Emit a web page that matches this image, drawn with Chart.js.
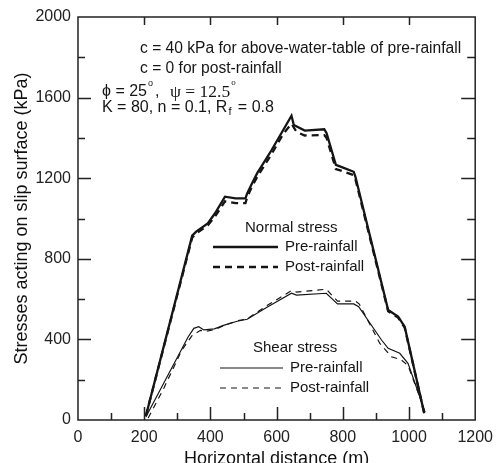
<!DOCTYPE html>
<html>
<head>
<meta charset="utf-8">
<script src="https://cdn.jsdelivr.net/npm/chart.js@4/dist/chart.umd.min.js"></script>
<style>
  html, body { margin: 0; padding: 0; overflow: hidden; background: #fff; }
</style>
</head>
<body>
<canvas id="chart" width="501" height="470"></canvas>
<script>
// values (horizontal distance in m, stress in kPa)
const normalPreX  = [205, 345, 357, 392, 414, 444, 476, 506, 511, 526, 541, 585, 620, 645, 652, 685, 744, 751, 779, 799, 833, 838, 937, 967, 987, 1046];
const normalPreY  = [20, 915, 935, 976, 1026, 1108, 1100, 1100, 1125, 1175, 1224, 1340, 1439, 1510, 1464, 1436, 1443, 1423, 1266, 1254, 1232, 1208, 546, 513, 463, 33];
const normalPostX = [205, 345, 357, 392, 414, 444, 476, 506, 511, 526, 541, 585, 620, 645, 660, 685, 744, 751, 779, 799, 833, 838, 937, 967, 987, 1046];
const normalPostY = [20, 905, 925, 966, 1010, 1085, 1076, 1076, 1105, 1160, 1205, 1320, 1420, 1470, 1430, 1412, 1414, 1400, 1245, 1235, 1215, 1195, 540, 508, 458, 33];

const shearPreX  = [205, 333, 350, 365, 380, 412, 442, 481, 511, 571, 645, 660, 750, 784, 833, 848, 917, 937, 972, 997, 1036, 1048];
const shearPreY  = [15, 413, 455, 463, 447, 452, 471, 490, 500, 560, 629, 620, 629, 576, 576, 562, 397, 356, 331, 281, 99, 40];
const shearPostX = [212, 260, 313, 345, 370, 385, 412, 442, 481, 511, 571, 645, 660, 750, 784, 838, 850, 912, 947, 977, 997, 1036, 1048];
const shearPostY = [10, 160, 345, 420, 445, 440, 448, 470, 492, 502, 568, 642, 635, 649, 590, 590, 575, 380, 314, 298, 270, 99, 40];

const xTickValues = [0, 200, 400, 600, 800, 1000, 1200];
const yTickValues = [0, 400, 800, 1200, 1600, 2000];

const groupTitles = ['Normal stress', 'Shear stress'];
const seriesNames = ['Pre-rainfall', 'Post-rainfall'];

const noteLines = [
  'c = 40 kPa for above-water-table of pre-rainfall',
  'c = 0 for post-rainfall'
];

const INK = '#151515';
const SANS = '"Liberation Sans", Arial, sans-serif';
const SERIF = '"Liberation Serif", "Times New Roman", serif';

function pts(xs, ys) {
  return xs.map((x, i) => ({ x: x, y: ys[i] }));
}

function series(label, xs, ys, width, dash) {
  return {
    label: label,
    data: pts(xs, ys),
    showLine: true,
    borderColor: INK,
    backgroundColor: INK,
    borderWidth: width,
    borderDash: dash,
    pointRadius: 0,
    tension: 0,
    fill: false
  };
}

// box round the plot, ticks pointing inward on all four sides
const frameAndTicks = {
  id: 'frameAndTicks',
  afterDatasetsDraw(chart) {
    const { ctx, chartArea: a, scales: { x, y } } = chart;
    ctx.save();
    ctx.strokeStyle = '#222';
    ctx.lineWidth = 1.5;
    ctx.strokeRect(a.left, a.top, a.right - a.left, a.bottom - a.top);
    ctx.beginPath();
    for (let v = 100; v < 1200; v += 100) {
      const px = Math.round(x.getPixelForValue(v)) + 0.5;
      const major = v % 200 === 0;
      ctx.moveTo(px, a.bottom);
      ctx.lineTo(px, a.bottom - (major ? 13 : 7));
      if (major) {
        ctx.moveTo(px, a.top);
        ctx.lineTo(px, a.top + 8);
      }
    }
    for (let v = 200; v < 2000; v += 200) {
      const py = Math.round(y.getPixelForValue(v)) + 0.5;
      const major = v % 400 === 0;
      ctx.moveTo(a.left, py);
      ctx.lineTo(a.left + (major ? 13 : 7), py);
      ctx.moveTo(a.right, py);
      ctx.lineTo(a.right - (major ? 14 : 8), py);
    }
    ctx.stroke();
    ctx.restore();
  }
};

// parameter notes and the two grouped legends
const notesAndLegend = {
  id: 'notesAndLegend',
  afterDraw(chart) {
    const ctx = chart.ctx;
    ctx.save();
    ctx.fillStyle = INK;
    ctx.textAlign = 'left';
    ctx.textBaseline = 'middle';

    ctx.font = '15.6px ' + SANS;
    ctx.fillText(noteLines[0], 140, 49);
    ctx.fillText(noteLines[1], 140, 69);

    // phi = 25 deg, psi = 12.5 deg
    let cx = 102;
    const cy = 92;
    ctx.font = '16px ' + SANS;
    ctx.fillText('\u03D5 = 25', cx, cy);
    cx += ctx.measureText('\u03D5 = 25').width;
    ctx.font = '9px ' + SANS;
    ctx.fillText('o', cx + 1, cy - 8);
    cx += 8;
    ctx.font = '16px ' + SANS;
    ctx.fillText(',', cx, cy);
    cx = 170;
    ctx.font = '17.5px ' + SERIF;
    ctx.fillText('\u03C8 = 12.5', cx, cy);
    cx += ctx.measureText('\u03C8 = 12.5').width;
    ctx.font = '9px ' + SERIF;
    ctx.fillText('o', cx + 1, cy - 9);

    // K, n, Rf
    cx = 102;
    const ky = 108;
    ctx.font = '16px ' + SANS;
    ctx.fillText('K = 80, n = 0.1, R', cx, ky);
    cx += ctx.measureText('K = 80, n = 0.1, R').width;
    ctx.font = '11px ' + SANS;
    ctx.fillText('f', cx + 1, ky + 4);
    cx += 6;
    ctx.font = '16px ' + SANS;
    ctx.fillText(' = 0.8', cx, ky);

    // legends
    const boxes = [
      { title: [245, 228], lineX: [213, 278], textX: 285, rows: [247, 267], sets: [0, 1] },
      { title: [253, 348], lineX: [220, 283], textX: 290, rows: [368, 388], sets: [2, 3] }
    ];
    boxes.forEach((b, g) => {
      ctx.font = '15px ' + SANS;
      ctx.fillText(groupTitles[g], b.title[0], b.title[1]);
      b.sets.forEach((di, r) => {
        const ds = chart.data.datasets[di];
        ctx.save();
        ctx.strokeStyle = ds.borderColor;
        ctx.lineWidth = ds.borderWidth;
        ctx.setLineDash(ds.borderDash);
        ctx.beginPath();
        ctx.moveTo(b.lineX[0], b.rows[r]);
        ctx.lineTo(b.lineX[1], b.rows[r]);
        ctx.stroke();
        ctx.restore();
        ctx.font = '15px ' + SANS;
        ctx.fillText(ds.label, b.textX, b.rows[r]);
      });
    });
    ctx.restore();
  }
};

const chart = new Chart(document.getElementById('chart'), {
  type: 'scatter',
  data: {
    datasets: [
      series(seriesNames[0], normalPreX, normalPreY, 2.3, []),
      series(seriesNames[1], normalPostX, normalPostY, 2.3, [7, 5]),
      series(seriesNames[0], shearPreX, shearPreY, 1.2, []),
      series(seriesNames[1], shearPostX, shearPostY, 1.2, [6, 5])
    ]
  },
  options: {
    responsive: false,
    animation: false,
    devicePixelRatio: 1,
    layout: { padding: { left: 0, right: 20, top: 17, bottom: 0 } },
    plugins: {
      legend: { display: false },
      tooltip: { enabled: false }
    },
    scales: {
      x: {
        type: 'linear',
        min: 0,
        max: 1200,
        afterBuildTicks: s => { s.ticks = xTickValues.map(v => ({ value: v })); },
        afterFit: s => { s.height = 50; },
        grid: { display: false, drawTicks: false },
        border: { display: false },
        ticks: {
          color: '#222',
          padding: 8,
          maxRotation: 0,
          callback: v => String(v),
          font: { family: SANS, size: 16 }
        },
        title: {
          display: true,
          text: 'Horizontal distance (m)',
          color: '#111',
          padding: { top: 0, bottom: 0 },
          font: { family: SANS, size: 18 }
        }
      },
      y: {
        type: 'linear',
        min: 0,
        max: 2000,
        afterBuildTicks: s => { s.ticks = yTickValues.map(v => ({ value: v })); },
        afterFit: s => { s.width = 78; },
        grid: { display: false, drawTicks: false },
        border: { display: false },
        ticks: {
          color: '#222',
          padding: 7,
          callback: v => String(v),
          font: { family: SANS, size: 16 }
        },
        title: {
          display: true,
          text: 'Stresses acting on slip surface (kPa)',
          color: '#111',
          padding: { top: 11, bottom: 0 },
          font: { family: SANS, size: 18 }
        }
      }
    }
  },
  plugins: [frameAndTicks, notesAndLegend]
});
</script>
</body>
</html>
